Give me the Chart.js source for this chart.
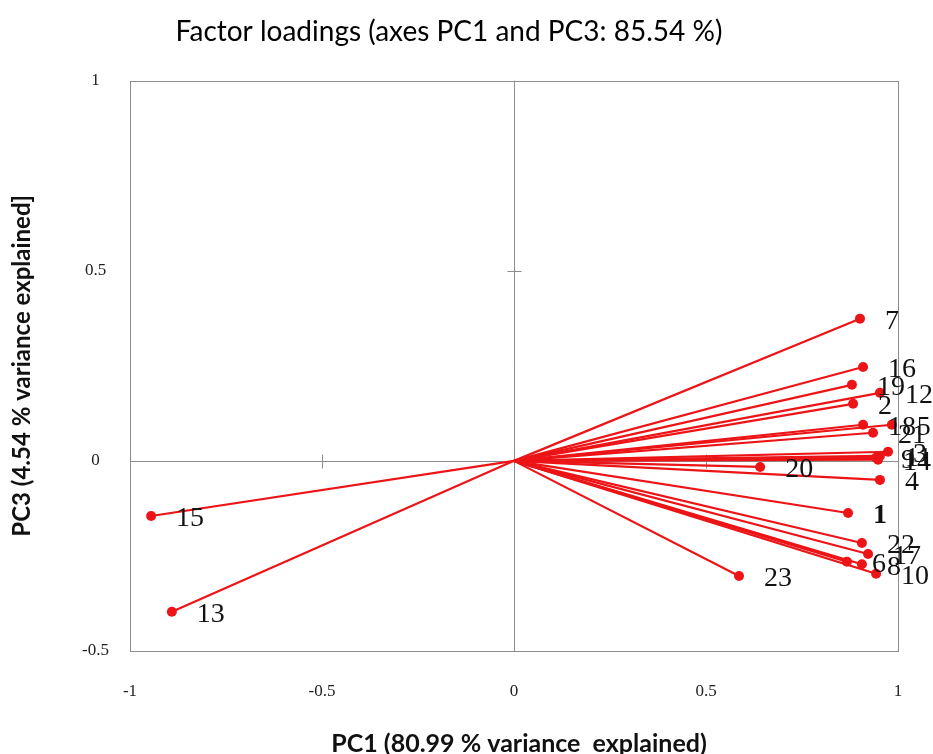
<!DOCTYPE html>
<html>
<head>
<meta charset="utf-8">
<script src="https://cdn.jsdelivr.net/npm/chart.js@4.4.1/dist/chart.umd.min.js"></script>
<style>
  html, body { margin: 0; padding: 0; background: #ffffff; }
  #wrap { width: 933px; height: 754px; position: relative; }
</style>
</head>
<body>
<div id="wrap"><canvas id="c" width="933" height="754"></canvas></div>
<script>
// ---- Data ----
const variableLabels = ['1','2','3','4','5','6','7','8','9','10','11','12','13','14','15','16','17','18','19','20','21','22','23'];
const pc1Loadings = [0.870, 0.883, 0.974, 0.953, 0.984, 0.867, 0.901, 0.906, 0.943, 0.943, 0.953, 0.953, -0.891, 0.948, -0.945, 0.909, 0.922, 0.909, 0.880, 0.641, 0.935, 0.906, 0.586];
const pc3Loadings = [-0.137, 0.150, 0.024, -0.050, 0.095, -0.265, 0.374, -0.272, 0.008, -0.297, 0.013, 0.179, -0.397, 0.003, -0.145, 0.247, -0.245, 0.095, 0.200, -0.016, 0.074, -0.216, -0.303];
const boldLabels = ['1'];
const xTickValues = [-1, -0.5, 0, 0.5, 1];
const yTickValues = [-0.5, 0, 0.5, 1];
const chartTitle = 'Factor loadings (axes PC1 and PC3: 85.54 %)';
const xAxisTitle = 'PC1 (80.99 % variance  explained)';
const yAxisTitle = 'PC3 (4.54 % variance explained]';

const RED = 'rgb(236,20,22)';
const AXIS_GRAY = '#8c8c8c';

const datasets = variableLabels.map((name, i) => ({
  label: name,
  data: [{x: 0, y: 0}, {x: pc1Loadings[i], y: pc3Loadings[i]}],
  showLine: true,
  borderColor: RED,
  backgroundColor: RED,
  borderWidth: 2.2,
  pointRadius: [0, 5],
  pointHoverRadius: [0, 5],
  pointBorderWidth: 0,
  pointBackgroundColor: RED
}));

const framePlugin = {
  id: 'frame',
  beforeDatasetsDraw(chart) {
    const {ctx, chartArea: a, scales: {x, y}} = chart;
    ctx.save();
    ctx.strokeStyle = AXIS_GRAY;
    ctx.lineWidth = 1;
    ctx.strokeRect(Math.round(a.left) + 0.5, Math.round(a.top) + 0.5, Math.round(a.right - a.left), Math.round(a.bottom - a.top));
    const x0 = Math.round(x.getPixelForValue(0)) + 0.5;
    const y0 = Math.round(y.getPixelForValue(0)) + 0.5;
    ctx.beginPath();
    ctx.moveTo(x0, a.top); ctx.lineTo(x0, a.bottom);
    ctx.moveTo(a.left, y0); ctx.lineTo(a.right, y0);
    xTickValues.forEach(v => {
      if (v === 0 || v === -1 || v === 1) return;
      const px = Math.round(x.getPixelForValue(v)) + 0.5;
      ctx.moveTo(px, y0 - 7); ctx.lineTo(px, y0 + 7);
    });
    yTickValues.forEach(v => {
      if (v === 0 || v === -0.5 || v === 1) return;
      const py = Math.round(y.getPixelForValue(v)) + 0.5;
      ctx.moveTo(x0 - 7, py); ctx.lineTo(x0 + 7, py);
    });
    ctx.stroke();
    ctx.restore();
  },
  afterDatasetsDraw(chart) {
    const {ctx, scales: {x, y}} = chart;
    ctx.save();
    ctx.fillStyle = '#111';
    ctx.textAlign = 'left';
    ctx.textBaseline = 'middle';
    variableLabels.forEach((name, i) => {
      const px = x.getPixelForValue(pc1Loadings[i]);
      const py = y.getPixelForValue(pc3Loadings[i]);
      ctx.font = (boldLabels.includes(name) ? 'bold ' : '') + '28px "Liberation Serif"';
      ctx.fillText(name, px + 25, py + 3);
    });
    ctx.restore();
  },
  afterDraw(chart) {
    const {ctx, chartArea: a} = chart;
    ctx.save();
    ctx.fillStyle = '#111';
    ctx.textAlign = 'center';
    ctx.textBaseline = 'middle';
    ctx.font = 'bold 25px Lato';
    ctx.fillText(xAxisTitle, (a.left + a.right) / 2 + 5, 744);
    ctx.translate(22, (a.top + a.bottom) / 2);
    ctx.rotate(-Math.PI / 2);
    ctx.font = 'bold 24px Lato';
    ctx.fillText(yAxisTitle, 0, 0);
    ctx.restore();
  }
};

new Chart(document.getElementById('c'), {
  type: 'scatter',
  data: { datasets },
  options: {
    responsive: false,
    animation: false,
    layout: { padding: { left: 0, right: 35, top: 0, bottom: 0 } },
    plugins: {
      legend: { display: false },
      tooltip: { enabled: false },
      title: {
        display: true,
        text: chartTitle,
        color: '#000',
        font: { family: 'Lato', size: 28, weight: 'normal' },
        padding: { top: 15, bottom: 32 }
      }
    },
    scales: {
      x: {
        type: 'linear',
        min: -1, max: 1,
        afterBuildTicks(s) { s.ticks = xTickValues.map(v => ({value: v})); },
        afterFit(s) { s.height = 103; },
        grid: { display: false, drawTicks: false },
        border: { display: false },
        ticks: {
          padding: 30,
          color: '#222',
          font: { family: 'Liberation Serif', size: 17 },
          callback: v => String(v)
        }
      },
      y: {
        type: 'linear',
        min: -0.5, max: 1,
        afterBuildTicks(s) { s.ticks = yTickValues.map(v => ({value: v})); },
        afterFit(s) { s.width = 130; },
        grid: { display: false, drawTicks: false },
        border: { display: false },
        ticks: {
          padding: 21,
          crossAlign: 'center',
          color: '#222',
          font: { family: 'Liberation Serif', size: 17 },
          callback: v => String(v)
        }
      }
    }
  },
  plugins: [framePlugin]
});
</script>
</body>
</html>
